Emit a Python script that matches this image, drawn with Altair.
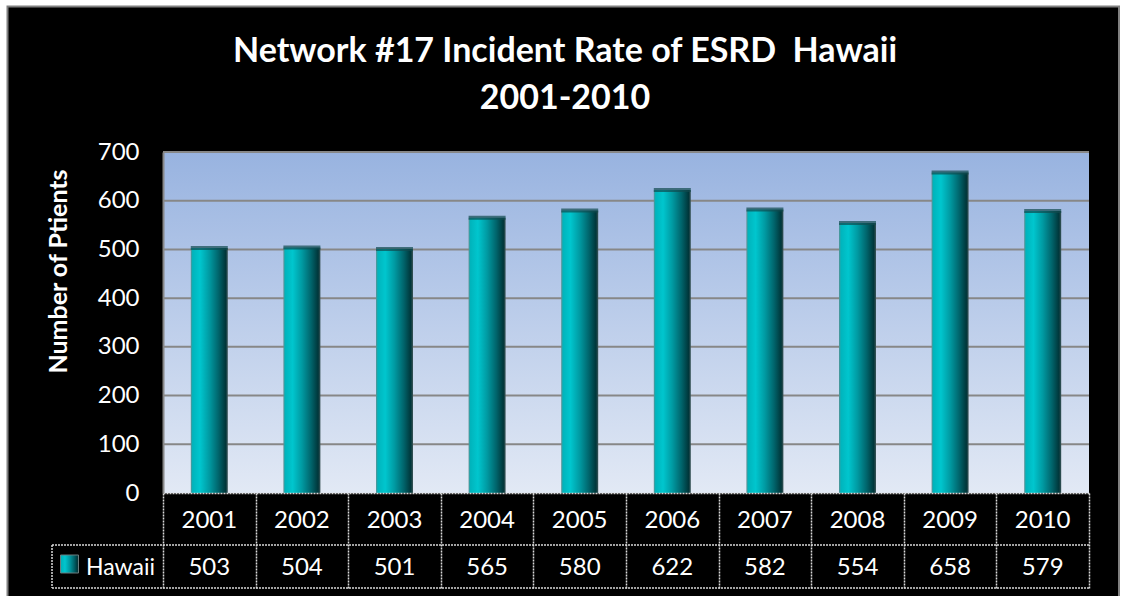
import altair as alt
import pandas as pd

# Incident ESRD patients, Network #17 (Hawaii), by year
years = ["2001", "2002", "2003", "2004", "2005", "2006", "2007", "2008", "2009", "2010"]
patients = [503, 504, 501, 565, 580, 622, 582, 554, 658, 579]
y_ticks = [0, 100, 200, 300, 400, 500, 600, 700]
grid_levels = [100, 200, 300, 400, 500, 600, 700]
series_name = "Hawaii"
title_lines = ["Network #17 Incident Rate of ESRD \u00a0Hawaii", "2001-2010"]
y_title = "Number of Ptients"

W, H = 926, 341
FONT = "Lato"
WHITE = "#ffffff"
TABLE_LINE = "#d9d9d9"
LABEL_SIZE = 24

df = pd.DataFrame({"year": years, "value": patients})
grid_df = pd.DataFrame({"value": grid_levels})
one = pd.DataFrame({"k": [0]})

x_axis = alt.Axis(
    labels=False, title=None, domain=True, domainColor=TABLE_LINE,
    domainDash=[2, 1], domainWidth=1.5, ticks=True, tickBand="extent",
    tickSize=95, tickColor=TABLE_LINE, tickDash=[2, 1], tickWidth=1.5,
    zindex=1,
)
y_axis = alt.Axis(
    values=y_ticks, grid=False, ticks=False, domain=True,
    domainColor="#888888", domainWidth=2, labelColor=WHITE,
    labelFont=FONT, labelFontSize=LABEL_SIZE, labelPadding=24,
    title=y_title, titleColor=WHITE, titleFont=FONT, titleFontSize=25,
    titleFontWeight="bold", titleAngle=270, titleX=-105, titleY=119,
    titleAlign="center", titleBaseline="middle", zindex=1,
)
x_enc = alt.X("year:N", sort=years,
              scale=alt.Scale(paddingInner=0, paddingOuter=0), axis=x_axis)
y_enc = alt.Y("value:Q", scale=alt.Scale(domain=[0, 700], nice=False), axis=y_axis)

bar_fill = alt.LinearGradient(
    gradient="linear", x1=0, y1=0, x2=1, y2=0,
    stops=[
        alt.GradientStop(offset=0.0, color="#5f8f92"),
        alt.GradientStop(offset=0.05, color="#00b4bc"),
        alt.GradientStop(offset=0.25, color="#00c6ce"),
        alt.GradientStop(offset=0.5, color="#009aa2"),
        alt.GradientStop(offset=0.75, color="#00646b"),
        alt.GradientStop(offset=0.94, color="#00363a"),
        alt.GradientStop(offset=1.0, color="#3c5558"),
    ],
)
plot_fill = alt.LinearGradient(
    gradient="linear", x1=0, y1=0, x2=0, y2=1,
    stops=[
        alt.GradientStop(offset=0.0, color="#98b3e0"),
        alt.GradientStop(offset=1.0, color="#e2e9f5"),
    ],
)

# black chart area with a grey border
frame = alt.Chart(one).mark_rect(fill="#000000", stroke="#808080", strokeWidth=2).encode(
    x=alt.value(-155.5), x2=alt.value(956), y=alt.value(-145.5), y2=alt.value(450)
)
# plot area with a vertical blue gradient
plot_bg = alt.Chart(one).mark_rect(fill=plot_fill).encode(
    x=alt.value(0), x2=alt.value(W), y=alt.value(0), y2=alt.value(H)
)
grid = alt.Chart(grid_df).mark_rule(color="#878787", strokeWidth=2).encode(
    y=y_enc, x=alt.value(0), x2=alt.value(W)
)
bars = alt.Chart(df).mark_bar(fill=bar_fill, size=37).encode(x=x_enc, y=y_enc)
caps = alt.Chart(df).mark_tick(color="#114a4e", thickness=4, size=37).encode(x=x_enc, y=y_enc)

# data table under the plot
year_row = alt.Chart(df).mark_text(font=FONT, fontSize=LABEL_SIZE, color=WHITE, baseline="middle").encode(
    x=x_enc, y=alt.value(369), text="year:N"
)
value_row = alt.Chart(df).mark_text(font=FONT, fontSize=LABEL_SIZE, color=WHITE, baseline="middle").encode(
    x=x_enc, y=alt.value(416), text="value:Q"
)
table_style = dict(color=TABLE_LINE, strokeDash=[2, 1], strokeWidth=1.5)
row_line = alt.Chart(one).mark_rule(**table_style).encode(
    x=alt.value(-111), x2=alt.value(W + 1), y=alt.value(393)
)
bottom_line = alt.Chart(one).mark_rule(**table_style).encode(
    x=alt.value(-111), x2=alt.value(W + 1), y=alt.value(436)
)
left_line = alt.Chart(one).mark_rule(**table_style).encode(
    x=alt.value(-111), y=alt.value(393), y2=alt.value(436)
)
swatch = alt.Chart(one).mark_square(fill=bar_fill, filled=True, size=324, opacity=1,
                                    stroke="#6a7c7e", strokeWidth=1).encode(
    x=alt.value(-93.5), y=alt.value(412)
)
legend_label = alt.Chart(one).mark_text(font=FONT, fontSize=23, color=WHITE,
                                        align="left", baseline="middle",
                                        text=series_name).encode(
    x=alt.value(-77), y=alt.value(416)
)

# two-line title
title1 = alt.Chart(one).mark_text(font=FONT, fontSize=34, fontWeight="bold", color=WHITE,
                                  align="center", baseline="alphabetic",
                                  text=title_lines[0]).encode(x=alt.value(402), y=alt.value(-90))
title2 = alt.Chart(one).mark_text(font=FONT, fontSize=34, fontWeight="bold", color=WHITE,
                                  align="center", baseline="alphabetic",
                                  text=title_lines[1]).encode(x=alt.value(402), y=alt.value(-43))

chart = alt.layer(
    frame, plot_bg, grid, bars, caps, year_row, value_row,
    row_line, bottom_line, left_line, swatch, legend_label, title1, title2,
).properties(
    width=W, height=H,
    autosize=alt.AutoSizeParams(type="none"),
    padding={"left": 163, "top": 152, "right": 34, "bottom": 103},
    background="#ffffff",
).configure_view(stroke=None)

chart.save("out.html", embed_options={"renderer": "svg", "actions": False})
